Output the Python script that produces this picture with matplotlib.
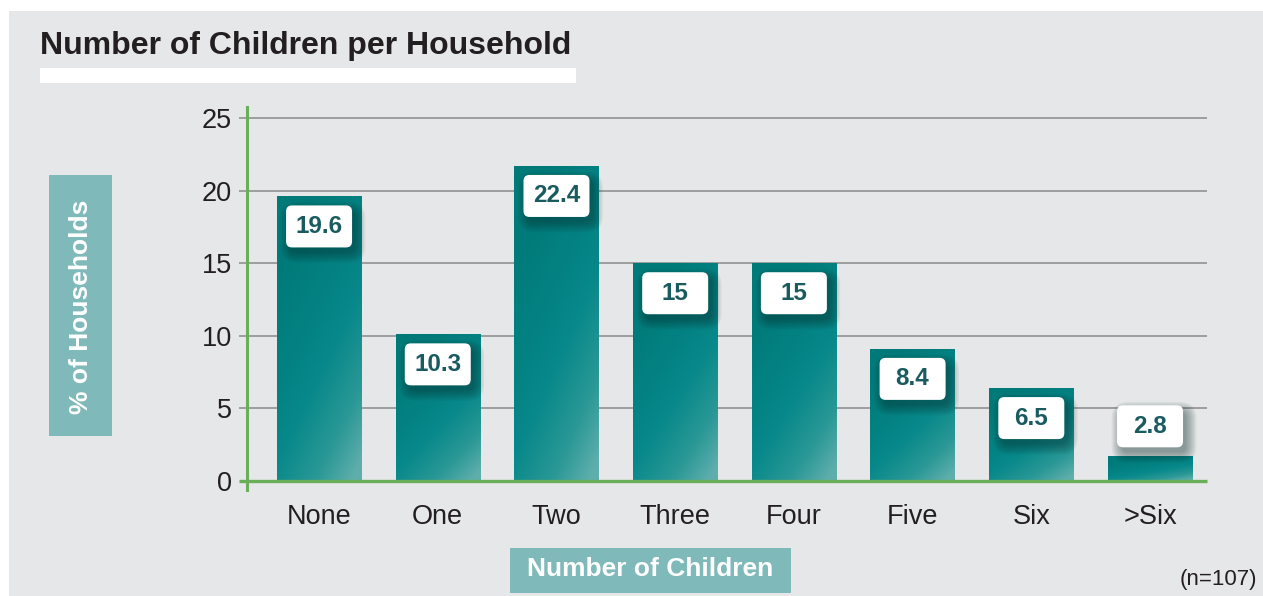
import numpy as np
import matplotlib
matplotlib.use('Agg')
import matplotlib.pyplot as plt
from matplotlib.patches import Rectangle, FancyBboxPatch
import matplotlib.transforms as mtransforms
from matplotlib.colors import LinearSegmentedColormap

categories = ['None', 'One', 'Two', 'Three', 'Four', 'Five', 'Six', '>Six']
label_values = ['19.6', '10.3', '22.4', '15', '15', '8.4', '6.5', '2.8']
bar_heights = [19.6, 10.1, 21.7, 15.0, 15.0, 9.1, 6.4, 1.7]
y_ticks = [0, 5, 10, 15, 20, 25]

plt.rcParams['font.family'] = ['Liberation Sans', 'DejaVu Sans']

W, H = 1263, 596
fig = plt.figure(figsize=(W / 100, H / 100), dpi=100)
fig.patch.set_facecolor('white')


def fx(px):
    return px / W


def fy(py):
    return 1 - py / H


TXT = '#231F20'
GREEN = '#6AAE5A'
BOXC = '#7FB9B9'

# background panel
fig.add_artist(Rectangle((fx(9), 0), 1 - fx(9), fy(11), transform=fig.transFigure,
                         facecolor='#E6E7E8', edgecolor='none', zorder=-5))
# title + white underline bar
fig.text(fx(40), fy(54), 'Number of Children per Household', ha='left', va='baseline',
         fontsize=23, fontweight='bold', color=TXT)
fig.add_artist(Rectangle((fx(40), fy(83)), fx(576) - fx(40), fy(68) - fy(83),
                         transform=fig.transFigure, facecolor='white', edgecolor='none', zorder=-4))

# axis title boxes
fig.add_artist(Rectangle((fx(49), fy(436)), fx(112) - fx(49), fy(175) - fy(436),
                         transform=fig.transFigure, facecolor=BOXC, edgecolor='none', zorder=-4))
fig.text(fx(80.5), fy(307), '% of Households', rotation=90, ha='center', va='center',
         fontsize=19, fontweight='bold', color='white')
fig.add_artist(Rectangle((fx(510), fy(593)), fx(791) - fx(510), fy(548) - fy(593),
                         transform=fig.transFigure, facecolor=BOXC, edgecolor='none', zorder=-4))
fig.text(fx(650.5), fy(569), 'Number of Children', ha='center', va='center',
         fontsize=19, fontweight='bold', color='white')
fig.text(fx(1257), fy(580), '(n=107)', ha='right', va='center', fontsize=16, color=TXT)

# axes
ax = fig.add_axes([fx(247), fy(490), (1207 - 247) / W, (490 - 107) / H])
ax.patch.set_visible(False)
XL = (-0.607, 7.48)
YL = (-0.62, 25.76)

x = np.arange(len(categories))
bw = 0.71
bars = ax.bar(x, bar_heights, width=bw, color='#0A8A87', zorder=2)

cmap = LinearSegmentedColormap.from_list('teal', [(0, '#007A79'), (0.45, '#07888A'),
                                                  (0.75, '#2A9896'), (1.0, '#5EAEAC')])
uu, vv = np.meshgrid(np.linspace(0, 1, 120), np.linspace(0, 1, 120))
grad = np.clip(0.45 * uu + 0.75 * vv - 0.15, 0, 1) ** 1.3
for b in bars:
    im = ax.imshow(grad, cmap=cmap, vmin=0, vmax=1, aspect='auto', interpolation='bilinear',
                   origin='upper',
                   extent=[b.get_x(), b.get_x() + b.get_width(), 0, b.get_height()], zorder=2.5)
    im.set_clip_path(b)

ax.set_xlim(*XL)
ax.set_ylim(*YL)

pxx = (1207 - 247) / (XL[1] - XL[0])
for t in y_ticks[1:]:
    ax.plot([XL[0] - 8 / pxx, XL[1]], [t, t], color='#9E9E9E', lw=1.4, zorder=1, clip_on=False,
            solid_capstyle='butt')
ax.plot([XL[0] - 8 / pxx, XL[1]], [0, 0], color=GREEN, lw=2.4, zorder=4, clip_on=False,
        solid_capstyle='butt')

for s in ['top', 'right', 'bottom']:
    ax.spines[s].set_visible(False)
ax.spines['left'].set_color(GREEN)
ax.spines['left'].set_linewidth(2.2)
ax.spines['left'].set_zorder(4)

ax.set_yticks(y_ticks)
ax.set_xticks(x, categories)
ax.tick_params(axis='y', length=0, pad=11, labelsize=19.5, labelcolor=TXT)
ax.tick_params(axis='x', length=0, pad=10, labelsize=19.5, labelcolor=TXT)

# value label boxes (display pixel coordinates)
ident = mtransforms.IdentityTransform()
bwpx, bhpx = 66, 42
for i, (h, lab) in enumerate(zip(bar_heights, label_values)):
    xd, yd = ax.transData.transform((i, h))
    y0d = ax.transData.transform((i, 0))[1]
    if yd - y0d < 60:
        yc = yd + 30
    else:
        yc = yd - 30
    # shadow
    for k in range(9):
        grow = 1 + k * 1.3
        sh = FancyBboxPatch((xd - bwpx / 2 + 4 - grow + 2, yc - bhpx / 2 - 6 - grow + 2),
                            bwpx + 2 * grow - 4, bhpx + 2 * grow - 4,
                            boxstyle='round,pad=0,rounding_size=%g' % (5 + grow),
                            transform=ident, facecolor='#0B2B2B', edgecolor='none',
                            alpha=0.055, zorder=5, clip_on=False)
        ax.add_patch(sh)
    box = FancyBboxPatch((xd - bwpx / 2, yc - bhpx / 2), bwpx, bhpx,
                         boxstyle='round,pad=0,rounding_size=6', transform=ident,
                         facecolor='white', edgecolor='none', zorder=6, clip_on=False)
    ax.add_patch(box)
    ax.text(xd, yc, lab, transform=ident, ha='center', va='center', fontsize=17.5,
            fontweight='bold', color='#1A5B60', zorder=7)

fig.savefig('out.png', dpi=100, facecolor='white')
